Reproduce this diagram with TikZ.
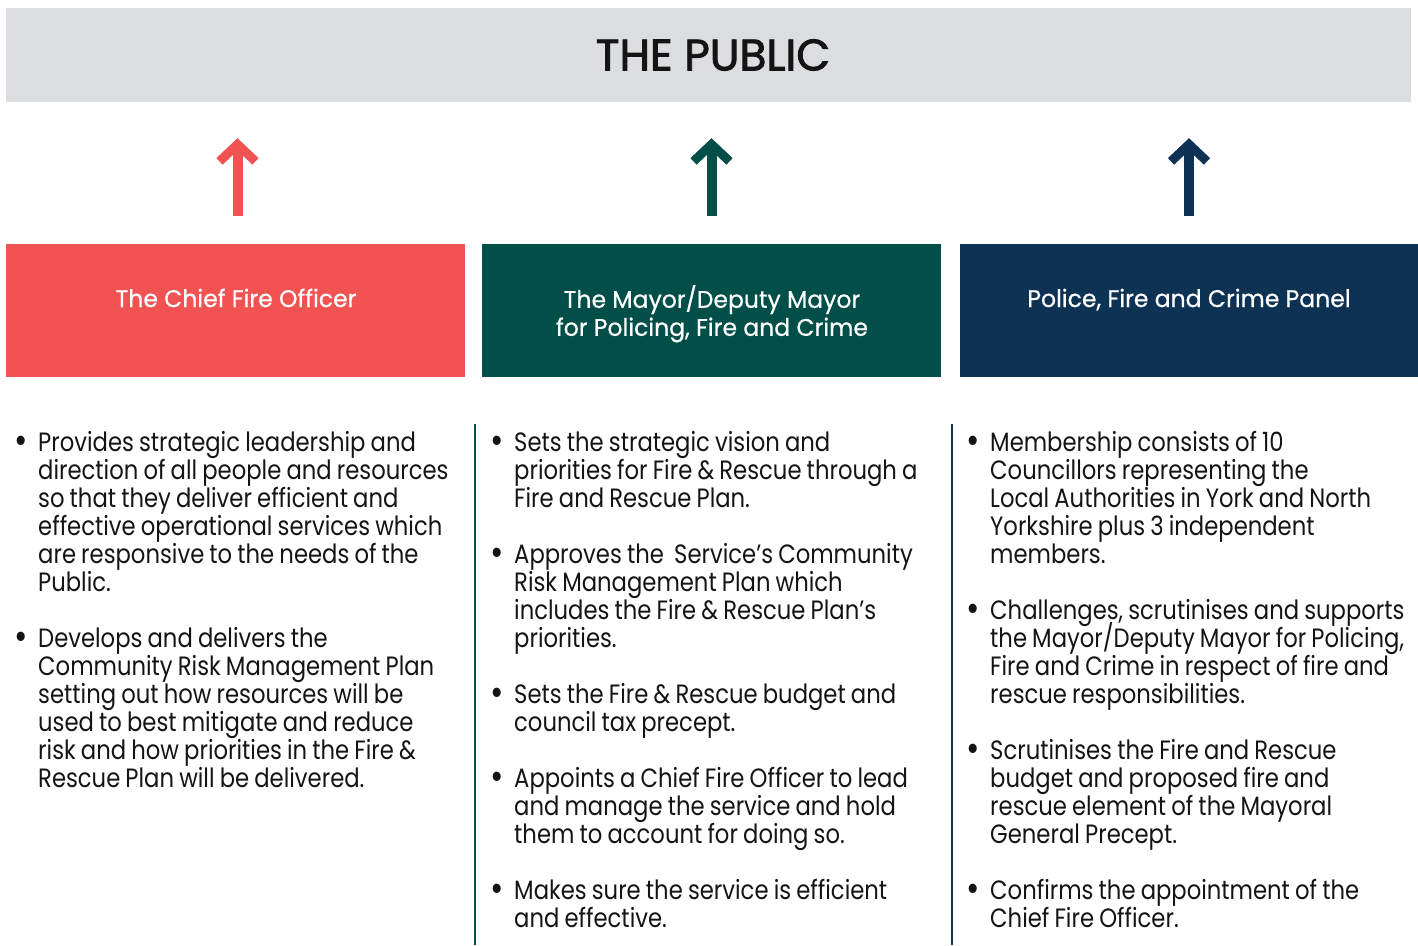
\documentclass[tikz,border=0pt]{standalone}
\usepackage{fontspec}
\setmainfont{Poppins}[FakeStretch=0.857, WordSpace={0.85,0.5,0.3}]
\newfontfamily\boxfont{Poppins}[FakeStretch=0.98, FakeBold=0.6]
\newfontfamily\headfont{Poppins}[FakeBold=2]
\usetikzlibrary{arrows.meta}
\definecolor{cred}{HTML}{F05352}
\definecolor{cgreen}{HTML}{014F48}
\definecolor{cnavy}{HTML}{0E3254}
\definecolor{cgray}{HTML}{DCDDDF}
\definecolor{ctext}{HTML}{141414}
\newcommand\tightlines{\lineskiplimit=-100pt\relax\lineskip=0pt\relax}
\newcommand\bul{\llap{\raisebox{-2.5pt}{\fontsize{38}{28}\selectfont\textbullet}\hspace{10pt}}}
\tikzset{
  box/.style={minimum width=459pt, minimum height=133pt, inner sep=0pt},
  boxtitle/.style={inner sep=0pt, text=white, align=center, font={\boxfont\fontsize{24}{28}\selectfont\tightlines}},
  up/.style={draw=#1, line width=10pt, -{Straight Barb[sharp, length=17pt, width=36pt, line width=9pt]}, shorten <=28pt, shorten >=36pt},
  body/.style={anchor=north west, inner sep=0pt, align=left, text=ctext, font={\fontsize{26.5}{28}\selectfont\tightlines}},
  divider/.style={draw=#1, line width=2.3pt}
}
\begin{document}
\begin{tikzpicture}[x=1pt,y=-1pt]
\useasboundingbox (0,0) rectangle (1418,945);
\node[fill=cgray, minimum width=1405pt, minimum height=94pt, inner sep=0pt] (public) at (708.5,55) {};
\node[font=\headfont\fontsize{44}{50}\selectfont, text=ctext, inner sep=0pt] (publict) at (713,55) {THE PUBLIC};
\node[box, fill=cred] (cfo) at (235.5,310.5) {};
\node[box, fill=cgreen] (mayor) at (711.5,310.5) {};
\node[box, fill=cnavy] (panel) at (1189,310.5) {};
\node[boxtitle, anchor=base] (cfot) at (236,307) {The Chief Fire Officer};
\node[boxtitle, anchor=north] (mayort) at (712,285) {The Mayor/Deputy Mayor\\for Policing, Fire and Crime};
\node[boxtitle, anchor=base] (panelt) at (1189,307) {Police, Fire and Crime Panel};
\draw[up=cred] ([xshift=2pt]cfo.north) -- ([xshift=2pt]cfo.north |- public.south);
\draw[up=cgreen] (mayor.north) -- (mayor.north |- public.south);
\draw[up=cnavy] (panel.north) -- (panel.north |- public.south);
\coordinate (d1a) at (475,424); \coordinate (d1b) at (475,945);
\coordinate (d2a) at (952,424); \coordinate (d2b) at (952,945);
\draw[divider=cgreen] (d1a) -- (d1b);
\draw[divider=cnavy] (d2a) -- (d2b);
\node[body] (c1) at (38,431) {\bul Provides strategic leadership and\\direction of all people and resources\\so that they deliver efficient and\\effective operational services which\\are responsive to the needs of the\\Public.\\[28pt]\bul Develops and delivers the\\Community Risk Management Plan\\setting out how resources will be\\used to best mitigate and reduce\\risk and how priorities in the Fire \&\\Rescue Plan will be delivered.};
\node[body] (c2) at (514,431) {\bul Sets the strategic vision and\\priorities for Fire \& Rescue through a\\Fire and Rescue Plan.\\[28pt]\bul Approves the\ \ Service’s Community\\Risk Management Plan which\\includes the Fire \& Rescue Plan’s\\priorities.\\[28pt]\bul Sets the Fire \& Rescue budget and\\council tax precept.\\[28pt]\bul Appoints a Chief Fire Officer to lead\\and manage the service and hold\\them to account for doing so.\\[28pt]\bul Makes sure the service is efficient\\and effective.};
\node[body] (c3) at (990,431) {\bul Membership consists of 10\\Councillors representing the\\Local Authorities in York and North\\Yorkshire plus 3 independent\\members.\\[28pt]\bul Challenges, scrutinises and supports\\the Mayor/Deputy Mayor for Policing,\\Fire and Crime in respect of fire and\\rescue responsibilities.\\[28pt]\bul Scrutinises the Fire and Rescue\\budget and proposed fire and\\rescue element of the Mayoral\\General Precept.\\[28pt]\bul Confirms the appointment of the\\Chief Fire Officer.};
\end{tikzpicture}
\end{document}
